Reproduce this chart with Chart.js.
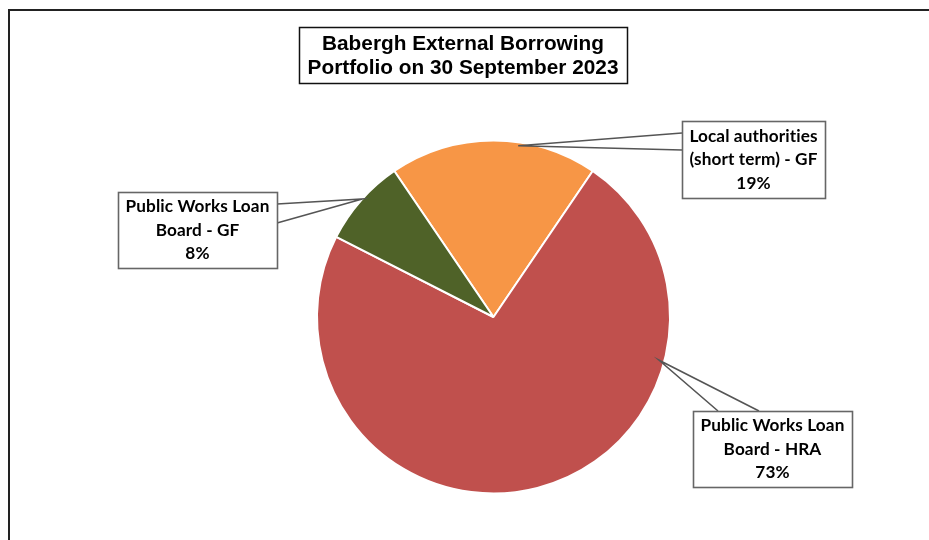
<!DOCTYPE html>
<html>
<head>
<meta charset="utf-8">
<script src="https://cdn.jsdelivr.net/npm/chart.js@4/dist/chart.umd.min.js"></script>
<style>
html,body{margin:0;padding:0;background:#fff;}
#wrap{position:relative;width:929px;height:540px;}
</style>
</head>
<body>
<div id="wrap"><canvas id="c" width="929" height="540"></canvas></div>
<script>
const titleLines = ["Babergh External Borrowing", "Portfolio on 30 September 2023"];
const categories = [
  ["Local authorities", "(short term) - GF"],
  ["Public Works Loan", "Board - HRA"],
  ["Public Works Loan", "Board - GF"]
];
const values = [19, 73, 8];
const colors = ["#F79646", "#C0504D", "#4F6228"];

// callout layout: box rect, pointer base, tip position along slice (fraction of angle, fraction of radius)
const callouts = [
  {box:[682,121,825,198], base:[[682,133],[682,150]], tipFrac:0.62, tipR:0.98},
  {box:[693,411,852,487], base:[[718,411],[759,411]], tipFrac:0.268, tipR:0.97},
  {box:[118,192,277,268], base:[[277,204],[277,223]], tipFrac:0.52, tipR:1.0}
];

const total = values.reduce((a,b)=>a+b,0);

const decor = {
  id:'decor',
  afterDraw(chart){
    const ctx = chart.ctx;
    ctx.save();
    // outer frame
    ctx.strokeStyle = '#222';
    ctx.lineWidth = 2;
    ctx.beginPath();
    ctx.moveTo(9, 541); ctx.lineTo(9, 10); ctx.lineTo(930, 10);
    ctx.stroke();
    // title box
    ctx.strokeStyle = '#111';
    ctx.lineWidth = 1.5;
    ctx.fillStyle = '#fff';
    ctx.fillRect(299.5, 27.5, 328, 56);
    ctx.strokeRect(299.5, 27.5, 328, 56);
    ctx.fillStyle = '#000';
    ctx.font = 'bold 20.8px "Liberation Sans", Arial, sans-serif';
    ctx.textAlign = 'center';
    ctx.textBaseline = 'middle';
    ctx.fillText(titleLines[0], 463, 44);
    ctx.fillText(titleLines[1], 463, 68);

    // callouts
    const meta = chart.getDatasetMeta(0);
    meta.data.forEach((arc, i) => {
      const c = callouts[i];
      const p = arc.getProps(['x','y','startAngle','endAngle','outerRadius'], true);
      const ang = p.startAngle + (p.endAngle - p.startAngle) * c.tipFrac;
      const r = p.outerRadius * c.tipR;
      const tx = p.x + Math.cos(ang) * r;
      const ty = p.y + Math.sin(ang) * r;
      const [x1,y1,x2,y2] = c.box;
      ctx.strokeStyle = '#555';
      ctx.lineWidth = 1.6;
      ctx.fillStyle = '#fff';
      ctx.beginPath();
      ctx.moveTo(c.base[0][0], c.base[0][1]);
      ctx.lineTo(tx, ty);
      ctx.lineTo(c.base[1][0], c.base[1][1]);
      ctx.stroke();
      ctx.fillRect(x1, y1, x2-x1, y2-y1);
      ctx.strokeStyle = '#666';
      ctx.strokeRect(x1+0.5, y1+0.5, x2-x1, y2-y1);
      const pct = Math.round(values[i] / total * 100) + '%';
      const lines = categories[i].concat([pct]);
      ctx.fillStyle = '#000';
      ctx.font = 'bold 17.2px Lato, "Open Sans", sans-serif';
      if ('letterSpacing' in ctx) ctx.letterSpacing = '0.1px';
      ctx.textAlign = 'center';
      ctx.textBaseline = 'middle';
      const cx = (x1+x2)/2, cy = (y1+y2)/2;
      lines.forEach((t, k) => ctx.fillText(t, cx, cy + (k-1)*23.5));
      if ('letterSpacing' in ctx) ctx.letterSpacing = '0px';
    });
    ctx.restore();
  }
};

new Chart(document.getElementById('c'), {
  type: 'pie',
  data: {
    labels: categories.map(l => l.join(' ')),
    datasets: [{
      data: values,
      backgroundColor: colors,
      borderColor: '#fff',
      borderWidth: 2
    }]
  },
  options: {
    responsive: false,
    animation: false,
    rotation: -34.2,
    layout: { padding: { left: 316, right: 258, top: 139, bottom: 45 } },
    plugins: { legend: { display: false }, tooltip: { enabled: false }, title: { display: false } }
  },
  plugins: [decor]
});
</script>
</body>
</html>
